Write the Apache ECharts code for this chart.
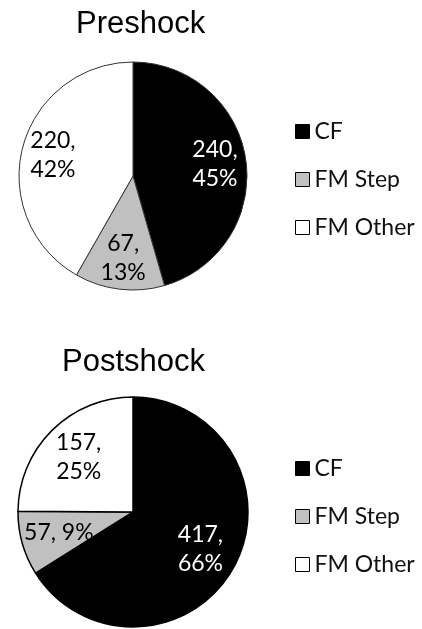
<!DOCTYPE html>
<html>
<head>
<meta charset="utf-8">
<script src="https://cdn.jsdelivr.net/npm/echarts@6/dist/echarts.min.js"></script>
<style>html,body{margin:0;padding:0;background:#fff;}#c{width:422px;height:629px;}</style>
</head>
<body>
<div id="c"></div>
<script>
const categories = ['CF', 'FM Step', 'FM Other'];
const preValues = [240, 67, 220];
const prePercents = ['45%', '13%', '42%'];
const postValues = [417, 57, 157];
const postPercents = ['66%', '9%', '25%'];
const postSeparators = ['\n', ' ', '\n'];
const preTitle = 'Preshock';
const postTitle = 'Postshock';

const colors = ['#000000', '#c0c0c0', '#ffffff'];
const labelColors = ['#ffffff', '#000000', '#000000'];

function pieData(values) {
  return categories.map((n, i) => ({
    name: n, value: values[i],
    itemStyle: { color: colors[i] }
  }));
}
function labelData(values, pcts, seps) {
  return categories.map((n, i) => ({
    name: n, value: values[i],
    label: {
      color: labelColors[i],
      formatter: values[i] + ',' + (seps ? seps[i] : '\n') + pcts[i]
    }
  }));
}

const R = 114;
const chart = echarts.init(document.getElementById('c'), null, { renderer: 'canvas' });
const labelFont = { fontFamily: 'Lato', fontSize: 23, lineHeight: 29 };
const legendBase = {
  orient: 'vertical', left: 290, itemWidth: 14, itemHeight: 14, itemGap: 25,
  icon: 'rect', selectedMode: false,
  textStyle: { fontFamily: 'Lato', fontSize: 23, color: '#111', padding: [0, 0, 0, 0] },
  itemStyle: { borderColor: '#000', borderWidth: 1 },
  data: categories
};
chart.setOption({
  animation: false,
  backgroundColor: '#fff',
  title: [
    { text: preTitle, left: 76, top: 9, padding: 0,
      textStyle: { fontFamily: 'Liberation Sans', fontSize: 31, fontWeight: 'normal', color: '#000' } },
    { text: postTitle, left: 62, top: 347, padding: 0,
      textStyle: { fontFamily: 'Liberation Sans', fontSize: 31, fontWeight: 'normal', color: '#000' } }
  ],
  legend: [
    Object.assign({}, legendBase, { top: 115 }),
    Object.assign({}, legendBase, { top: 452 })
  ],
  series: [
    { type: 'pie', center: [133, 176], radius: [0, R], startAngle: 90, clockwise: true,
      silent: true, label: { show: false }, labelLine: { show: false },
      itemStyle: { borderColor: '#333', borderWidth: 1 },
      data: pieData(preValues) },
    { type: 'pie', center: [133, 512], radius: [0, R + 1], startAngle: 90, clockwise: true,
      silent: true, label: { show: false }, labelLine: { show: false },
      itemStyle: { borderColor: '#000', borderWidth: 1.5 },
      data: pieData(postValues) },
    { type: 'pie', center: [133, 176], radius: [R * 0.4, R], startAngle: 90, clockwise: true,
      silent: true, legendHoverLink: false,
      itemStyle: { color: 'rgba(0,0,0,0)', borderWidth: 0 },
      label: Object.assign({ show: true, position: 'inside', align: 'center' }, labelFont),
      labelLine: { show: false },
      data: labelData(preValues, prePercents) },
    { type: 'pie', center: [133, 512], radius: [R * 0.3, R], startAngle: 90, clockwise: true,
      silent: true, legendHoverLink: false,
      itemStyle: { color: 'rgba(0,0,0,0)', borderWidth: 0 },
      label: Object.assign({ show: true, position: 'inside', align: 'center' }, labelFont),
      labelLine: { show: false },
      data: labelData(postValues, postPercents, postSeparators) }
  ]
});
</script>
</body>
</html>
